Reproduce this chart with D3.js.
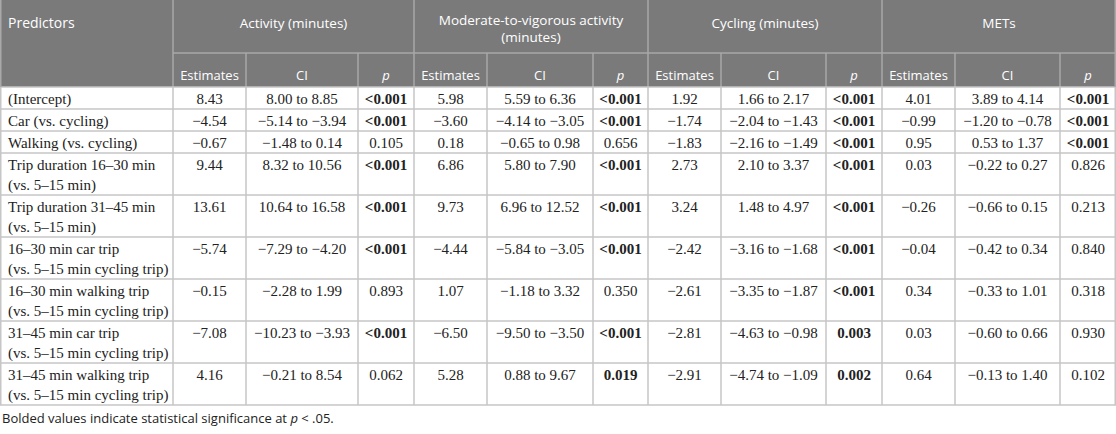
<!DOCTYPE html>
<html>
<head>
<meta charset="utf-8">
<script src="https://cdn.jsdelivr.net/npm/d3@7"></script>
<style>
  body { margin: 0; background: #fff; }
  svg { display: block; }
</style>
</head>
<body>
<script>
// table contents
const predictors = [
  ["(Intercept)"],
  ["Car (vs. cycling)"],
  ["Walking (vs. cycling)"],
  ["Trip duration 16–30 min", "(vs. 5–15 min)"],
  ["Trip duration 31–45 min", "(vs. 5–15 min)"],
  ["16–30 min car trip", "(vs. 5–15 min cycling trip)"],
  ["16–30 min walking trip", "(vs. 5–15 min cycling trip)"],
  ["31–45 min car trip", "(vs. 5–15 min cycling trip)"],
  ["31–45 min walking trip", "(vs. 5–15 min cycling trip)"]
];
const outcomes = [["Activity (minutes)"], ["Moderate-to-vigorous activity", "(minutes)"], ["Cycling (minutes)"], ["METs"]];
const subHeads = ["Estimates", "CI", "p"];

const activityEst = [8.43, -4.54, -0.67, 9.44, 13.61, -5.74, -0.15, -7.08, 4.16];
const activityCI = ["8.00 to 8.85", "−5.14 to −3.94", "−1.48 to 0.14", "8.32 to 10.56", "10.64 to 16.58", "−7.29 to −4.20", "−2.28 to 1.99", "−10.23 to −3.93", "−0.21 to 8.54"];
const activityP = ["<0.001", "<0.001", "0.105", "<0.001", "<0.001", "<0.001", "0.893", "<0.001", "0.062"];

const mvpaEst = [5.98, -3.60, 0.18, 6.86, 9.73, -4.44, 1.07, -6.50, 5.28];
const mvpaCI = ["5.59 to 6.36", "−4.14 to −3.05", "−0.65 to 0.98", "5.80 to 7.90", "6.96 to 12.52", "−5.84 to −3.05", "−1.18 to 3.32", "−9.50 to −3.50", "0.88 to 9.67"];
const mvpaP = ["<0.001", "<0.001", "0.656", "<0.001", "<0.001", "<0.001", "0.350", "<0.001", "0.019"];

const cyclingEst = [1.92, -1.74, -1.83, 2.73, 3.24, -2.42, -2.61, -2.81, -2.91];
const cyclingCI = ["1.66 to 2.17", "−2.04 to −1.43", "−2.16 to −1.49", "2.10 to 3.37", "1.48 to 4.97", "−3.16 to −1.68", "−3.35 to −1.87", "−4.63 to −0.98", "−4.74 to −1.09"];
const cyclingP = ["<0.001", "<0.001", "<0.001", "<0.001", "<0.001", "<0.001", "<0.001", "0.003", "0.002"];

const metsEst = [4.01, -0.99, 0.95, 0.03, -0.26, -0.04, 0.34, 0.03, 0.64];
const metsCI = ["3.89 to 4.14", "−1.20 to −0.78", "0.53 to 1.37", "−0.22 to 0.27", "−0.66 to 0.15", "−0.42 to 0.34", "−0.33 to 1.01", "−0.60 to 0.66", "−0.13 to 1.40"];
const metsP = ["<0.001", "<0.001", "<0.001", "0.826", "0.213", "0.840", "0.318", "0.930", "0.102"];

const groups = [
  [activityEst, activityCI, activityP],
  [mvpaEst, mvpaCI, mvpaP],
  [cyclingEst, cyclingCI, cyclingP],
  [metsEst, metsCI, metsP]
];

const W = 1116, H = 434;
const sans = "'Open Sans', sans-serif";
const serif = "'Liberation Serif', 'Times New Roman', serif";
const headBg = "#7a7a7a", headLine = "#a9a9a9", bodyLine = "#c6c6c6";

// column widths -> right edges
const subW = [[73, 112, 56], [73, 106, 55], [73, 105, 56], [73, 105, 56]];
const colW = [173].concat(subW.flat());
const xs = Array.from(d3.cumsum(colW));
const left = i => i === 0 ? 0 : xs[i - 1];

const head1 = 53, head2 = 34;
const rowH = predictors.map(p => p.length > 1 ? 42 : 22);
const rowTop = [head1 + head2].concat(Array.from(d3.cumsum(rowH)).map(v => v + head1 + head2));

const fmt = d3.format(".2f");
const isSig = s => s.startsWith("<") || +s < 0.05;

const svg = d3.select("body").append("svg").attr("width", W).attr("height", H);

// header background
svg.append("rect").attr("x", 0).attr("y", 0).attr("width", W).attr("height", head1 + head2).attr("fill", headBg);

// header lines
const hl = svg.append("g").attr("stroke", headLine).attr("stroke-width", 1.5);
hl.append("line").attr("x1", colW[0]).attr("x2", W).attr("y1", head1).attr("y2", head1);
groups.forEach((g, gi) => {
  const gx = left(1 + gi * 3);
  hl.append("line").attr("x1", gx).attr("x2", gx).attr("y1", 0).attr("y2", head1 + head2);
  [1, 2].forEach(k => {
    const sx = left(1 + gi * 3 + k);
    hl.append("line").attr("x1", sx).attr("x2", sx).attr("y1", head1).attr("y2", head1 + head2);
  });
});

// header texts
svg.append("text").attr("x", 8).attr("y", 28).attr("fill", "#fff")
  .style("font", `14px ${sans}`).text("Predictors");
outcomes.forEach((lines, gi) => {
  const x0 = left(1 + gi * 3), x1 = xs[gi * 3 + 3];
  const t = svg.append("text").attr("text-anchor", "middle")
    .attr("fill", "#fff").style("font", `13.5px ${sans}`);
  const y0 = lines.length > 1 ? 25 : 28;
  lines.forEach((l, li) => t.append("tspan").attr("x", (x0 + x1) / 2).attr("y", y0 + li * 17).text(l));
  subHeads.forEach((s, k) => {
    const ci = 1 + gi * 3 + k;
    svg.append("text").attr("x", (left(ci) + xs[ci]) / 2).attr("y", 80)
      .attr("text-anchor", "middle").attr("fill", "#fff")
      .style("font", `${k === 2 ? "italic " : ""}13px ${sans}`).text(s);
  });
});

// body rows
const body = svg.append("g");
predictors.forEach((p, r) => {
  const top = rowTop[r];
  const t = body.append("text").style("font", `15px ${serif}`).attr("fill", "#222");
  p.forEach((l, li) => t.append("tspan").attr("x", 8).attr("y", top + 16.5 + li * 20).text(l));
  groups.forEach((g, gi) => {
    const vals = [fmt(g[0][r]), g[1][r], g[2][r]];
    vals.forEach((v, k) => {
      const ci = 1 + gi * 3 + k;
      body.append("text").attr("x", (left(ci) + xs[ci]) / 2).attr("y", top + 16.5)
        .attr("text-anchor", "middle").attr("fill", "#222")
        .style("font", `${k === 2 && isSig(v) ? "bold " : ""}15px ${serif}`).text(v);
    });
  });
});

// body grid
const gl = svg.append("g").attr("stroke", bodyLine).attr("stroke-width", 1.5);
const tableBottom = rowTop[rowTop.length - 1];
rowTop.forEach(y => gl.append("line").attr("x1", 0).attr("x2", W).attr("y1", y).attr("y2", y));
xs.forEach(x => {
  const xx = Math.min(x, W - 0.75);
  gl.append("line").attr("x1", xx).attr("x2", xx).attr("y1", head1 + head2).attr("y2", tableBottom);
});
gl.append("line").attr("x1", 0.75).attr("x2", 0.75).attr("y1", head1 + head2).attr("y2", tableBottom);
svg.append("g").attr("stroke", headLine).attr("stroke-width", 1.5).call(g => {
  g.append("line").attr("x1", 0.75).attr("x2", 0.75).attr("y1", 0).attr("y2", head1 + head2);
  g.append("line").attr("x1", W - 0.75).attr("x2", W - 0.75).attr("y1", 0).attr("y2", head1 + head2);
});

// footnote
const fn = svg.append("text").attr("x", 2).attr("y", 423).attr("fill", "#222").style("font", `13px ${sans}`);
fn.append("tspan").text("Bolded values indicate statistical significance at ");
fn.append("tspan").style("font-style", "italic").text("p");
fn.append("tspan").text(" < .05.");
</script>
</body>
</html>
